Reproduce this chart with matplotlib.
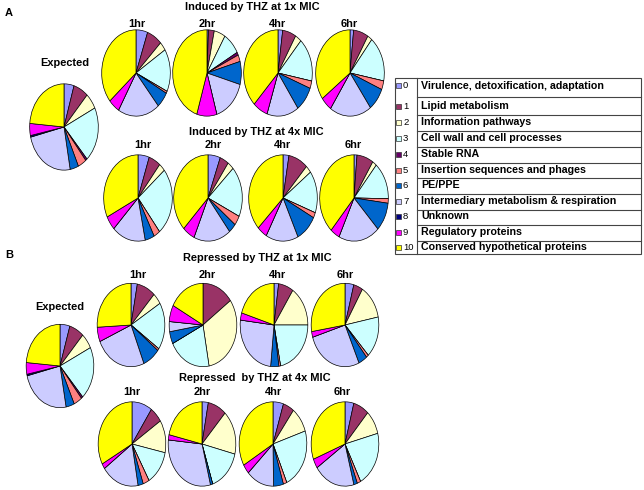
import matplotlib
matplotlib.use("Agg")
import matplotlib.pyplot as plt
from matplotlib.patches import Rectangle

plt.rcParams['font.family'] = ['Liberation Sans', 'DejaVu Sans']

# categories (legend)
categories = ['Virulence, detoxification, adaptation', 'Lipid metabolism',
              'Information pathways', 'Cell wall and cell processes', 'Stable RNA',
              'Insertion sequences and phages', 'PE/PPE',
              'Intermediary metabolism & respiration', 'Unknown',
              'Regulatory proteins', 'Conserved hypothetical proteins']
colors = ['#9999FF', '#993366', '#FFFFCC', '#CCFFFF', '#660066', '#FF8080',
          '#0066CC', '#CCCCFF', '#000080', '#FF00FF', '#FFFF00']
hours = ['1hr', '2hr', '4hr', '6hr']

# percentages per category 0..10
expected = [4.7, 7.0, 6.0, 20.5, 0.8, 4.0, 4.0, 24.0, 0.6, 4.5, 23.6]

induced_1x = [
    [5.5, 7.2, 3.3, 16.0, 0.0, 0.8, 6.0, 19.7, 0.0, 5.3, 36.2],
    [0.7, 2.7, 5.3, 8.3, 1.1, 2.5, 8.6, 16.0, 0.0, 9.4, 45.0],
    [2.2, 6.4, 3.0, 16.4, 0.0, 2.8, 9.4, 15.0, 0.0, 7.0, 37.8],
    [1.7, 7.0, 2.2, 17.0, 0.0, 3.3, 8.6, 19.7, 0.0, 5.3, 35.0],
]
induced_4x = [
    [5.3, 5.6, 3.0, 25.3, 0.0, 3.0, 4.4, 15.8, 0.0, 5.3, 32.2],
    [5.8, 4.2, 3.0, 19.0, 0.0, 3.6, 3.6, 17.5, 0.0, 5.8, 37.5],
    [2.8, 9.2, 2.8, 15.8, 0.0, 2.0, 10.3, 15.3, 0.0, 4.7, 37.2],
    [1.4, 7.8, 2.0, 14.0, 0.0, 1.7, 10.8, 19.4, 0.0, 4.4, 38.3],
]
repressed_1x = [
    [3.0, 8.9, 4.4, 18.3, 0.0, 0.8, 8.3, 24.7, 0.0, 5.6, 25.8],
    [0.0, 15.0, 32.0, 20.5, 0.0, 0.0, 4.7, 3.9, 0.0, 6.4, 17.2],
    [2.2, 7.2, 15.6, 21.9, 0.0, 0.8, 3.9, 25.3, 0.0, 2.8, 20.3],
    [4.2, 4.4, 13.3, 16.0, 0.0, 1.1, 4.2, 27.0, 0.0, 2.2, 27.5],
]
repressed_4x = [
    [9.7, 6.1, 12.5, 13.3, 0.0, 3.0, 2.5, 18.0, 0.0, 2.0, 32.8],
    [3.0, 8.9, 16.9, 16.0, 0.0, 0.0, 1.1, 30.5, 0.0, 2.0, 21.4],
    [5.0, 5.3, 9.7, 23.3, 0.0, 1.7, 4.7, 13.3, 0.0, 3.6, 33.3],
    [4.2, 7.5, 9.2, 21.4, 0.0, 1.7, 1.7, 19.7, 0.0, 3.6, 30.8],
]

W, H = 644, 490
fig = plt.figure(figsize=(W / 100, H / 100), dpi=100)

# 픽셀 좌표용 배경 축 (글자, 범례 표)
bg = fig.add_axes([0, 0, 1, 1])
bg.set_xlim(0, W)
bg.set_ylim(H, 0)
bg.axis('off')


def draw_pie(vals, cx, cy, w, h):
    ax = fig.add_axes([(cx - w / 2) / W, 1 - (cy + h / 2) / H, w / W, h / H])
    ax.pie(vals, colors=colors, startangle=90, counterclock=False,
           wedgeprops=dict(edgecolor='black', linewidth=0.5))
    ax.set_aspect('auto')   # 타원형 파이
    ax.set_xlim(-1.02, 1.02)
    ax.set_ylim(-1.02, 1.02)
    ax.axis('off')


def label(x, y, s, size=7.9, weight='bold'):
    bg.text(x, y, s, ha='center', va='center', fontsize=size, fontweight=weight)


# panel A
bg.text(5, 13, 'A', ha='left', va='center', fontsize=8, fontweight='bold')
label(252, 7, 'Induced by THZ at 1x MIC')
label(65, 63, 'Expected')
draw_pie(expected, 64, 127, 70, 88)
for i, (hx, px) in enumerate(zip([137, 207, 278, 349], [136, 207, 278, 350])):
    label(hx, 24, hours[i])
    draw_pie(induced_1x[i], px, 73, 70, 88)
label(256, 132, 'Induced by THZ at 4x MIC')
for i, (hx, px) in enumerate(zip([143, 213, 283, 353], [138, 208, 283, 354])):
    label(hx, 145, hours[i])
    draw_pie(induced_4x[i], px, 198, 70, 88)

# panel B
bg.text(5, 255, 'B', ha='left', va='center', fontsize=8, fontweight='bold')
label(257, 258, 'Repressed by THZ at 1x MIC')
label(60, 307, 'Expected')
draw_pie(expected, 60, 366, 69, 85)
for i, (hx, px) in enumerate(zip([138, 207, 278, 345], [131, 203, 274, 345])):
    label(hx, 275, hours[i])
    draw_pie(repressed_1x[i], px, 325, 69, 85)
label(255, 378, 'Repressed  by THZ at 4x MIC')
for i, (hx, px) in enumerate(zip([132, 202, 274, 342], [132, 202, 273, 345])):
    label(hx, 392, hours[i])
    draw_pie(repressed_4x[i], px, 444, 69, 86)

# legend table
top, bottom, left, right, sep = 78, 254, 395, 641, 417
row_y = [86, 106, 122, 138, 154, 170, 185, 201, 216, 232, 247]
bg.add_patch(Rectangle((left, top), right - left, bottom - top, fill=False,
                       edgecolor='#444444', linewidth=0.8))
bg.plot([sep, sep], [top, bottom], color='#444444', linewidth=0.8)
for k in range(len(row_y) - 1):
    yl = (row_y[k] + row_y[k + 1]) / 2 + 1
    bg.plot([sep, right], [yl, yl], color='#444444', linewidth=0.8)
for k, name in enumerate(categories):
    y = row_y[k]
    bg.add_patch(Rectangle((396, y - 2.5), 5, 5, facecolor=colors[k],
                           edgecolor='#333333', linewidth=0.5))
    bg.text(403, y, str(k), ha='left', va='center', fontsize=6.8)
    bg.text(421, y, name, ha='left', va='center', fontsize=7.7, fontweight='bold')

fig.savefig('out.png', dpi=100)
